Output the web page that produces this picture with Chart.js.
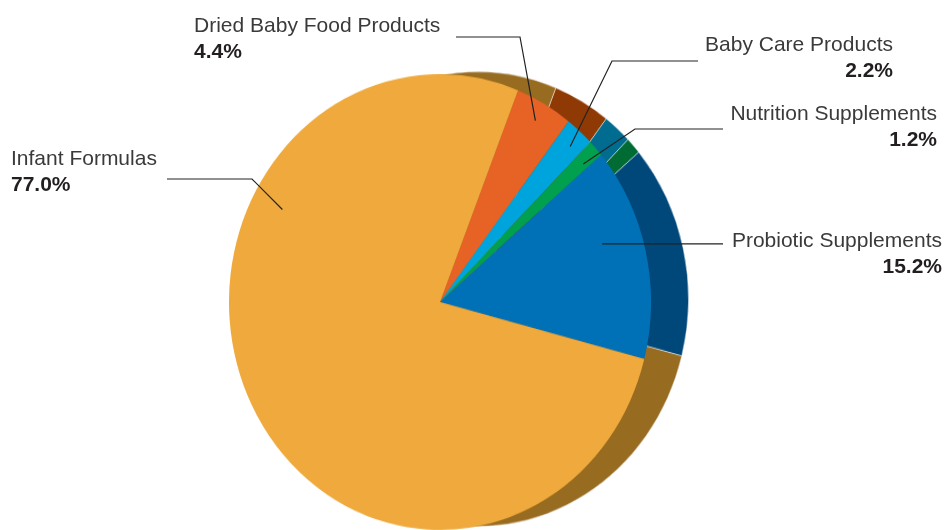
<!DOCTYPE html>
<html><head><meta charset="utf-8">
<script src="https://cdn.jsdelivr.net/npm/chart.js@4"></script>
<style>
html,body{margin:0;padding:0;background:#fff;}
#wrap{position:relative;width:946px;height:530px;overflow:hidden;font-family:"Liberation Sans",Arial,sans-serif;}
.pie{position:absolute;width:422px;height:422px;transform:scaleY(1.08);transform-origin:50% 50%;}
.pie canvas{display:block;}
.lbl{position:absolute;font-size:21px;color:#3a3a3a;line-height:26px;white-space:nowrap;}
.lbl b{color:#231f20;font-weight:bold;}
.r{text-align:right;}
svg{position:absolute;left:0;top:0;}
</style></head>
<body><div id="wrap">
<div class="pie" id="backBox" style="left:267px;top:88px"><canvas id="back" width="422" height="422"></canvas></div>
<div class="pie" id="frontBox" style="left:229px;top:91px"><canvas id="front" width="422" height="422"></canvas></div>
<svg id="lines" width="946" height="530"></svg>
</div>
<script>
// ---- data ----
const categories = ["Dried Baby Food Products", "Baby Care Products", "Nutrition Supplements", "Probiotic Supplements", "Infant Formulas"];
const shares = [4.4, 2.2, 1.2, 15.2, 77.0];
const frontColors = ["#E66325", "#00A4DD", "#00A04F", "#0071B6", "#EFA93C"];
const sideColors  = ["#8F3A05", "#006C8F", "#006B33", "#00477A", "#976B20"];

// ---- label layout (position of text, leader elbows, anchor placement inside slice) ----
const labelLayout = [
  {side:"left",  x:194, top:12,  start:[456,37],  elbow:[520,37],  frac:0.50, rad:0.915},
  {side:"right", x:53,  top:31,  start:[698,61],  elbow:[612,61],  frac:0.58, rad:0.92},
  {side:"right", x:9,   top:100, start:[723,129], elbow:[635,129], frac:0.65, rad:0.91},
  {side:"right", x:4,   top:227, start:[723,null], elbow:null,     frac:0.40, rad:0.81},
  {side:"left",  x:11,  top:145, start:[167,179], elbow:[252,179], frac:0.70, rad:0.85}
];
const ROT = 21.7;
const SY = 1.08;

function makePie(id, colors, border) {
  return new Chart(document.getElementById(id), {
    type: "pie",
    data: { labels: categories, datasets: [{ data: shares, backgroundColor: colors,
      borderWidth: border ? 1 : 0, borderColor: "rgba(255,255,255,0.45)" }] },
    options: {
      responsive: false, animation: false, rotation: ROT, events: [],
      layout: { padding: 0 },
      plugins: { legend: { display: false }, tooltip: { enabled: false } }
    }
  });
}
const backChart = makePie("back", sideColors, true);
const frontChart = makePie("front", frontColors, false);

// ---- labels ----
const wrap = document.getElementById("wrap");
categories.forEach((c, i) => {
  const L = labelLayout[i];
  const d = document.createElement("div");
  d.className = "lbl" + (L.side === "right" ? " r" : "");
  d.style.top = L.top + "px";
  if (L.side === "right") d.style.right = L.x + "px"; else d.style.left = L.x + "px";
  d.innerHTML = c + "<br><b>" + shares[i].toFixed(1) + "%</b>";
  wrap.appendChild(d);
});

// ---- leader lines anchored on the drawn arcs ----
const box = document.getElementById("frontBox");
const bl = box.offsetLeft, bt = box.offsetTop, bh = box.offsetHeight;
const svg = document.getElementById("lines");
const meta = frontChart.getDatasetMeta(0);
meta.data.forEach((el, i) => {
  const L = labelLayout[i];
  const p = el.getProps(["x","y","startAngle","endAngle","outerRadius"], true);
  const a = p.startAngle + (p.endAngle - p.startAngle) * L.frac;
  const r = p.outerRadius * L.rad;
  const cx = p.x + r * Math.cos(a), cy = p.y + r * Math.sin(a);
  const ax = bl + cx, ay = bt + bh / 2 + (cy - bh / 2) * SY;
  const pts = [];
  pts.push([L.start[0], L.start[1] === null ? ay : L.start[1]]);
  if (L.elbow) pts.push(L.elbow);
  pts.push([ax, ay]);
  const pl = document.createElementNS("http://www.w3.org/2000/svg", "polyline");
  pl.setAttribute("points", pts.map(q => q[0].toFixed(1) + "," + q[1].toFixed(1)).join(" "));
  pl.setAttribute("fill", "none");
  pl.setAttribute("stroke", "#222");
  pl.setAttribute("stroke-width", "1.2");
  svg.appendChild(pl);
});
</script>
</body></html>
